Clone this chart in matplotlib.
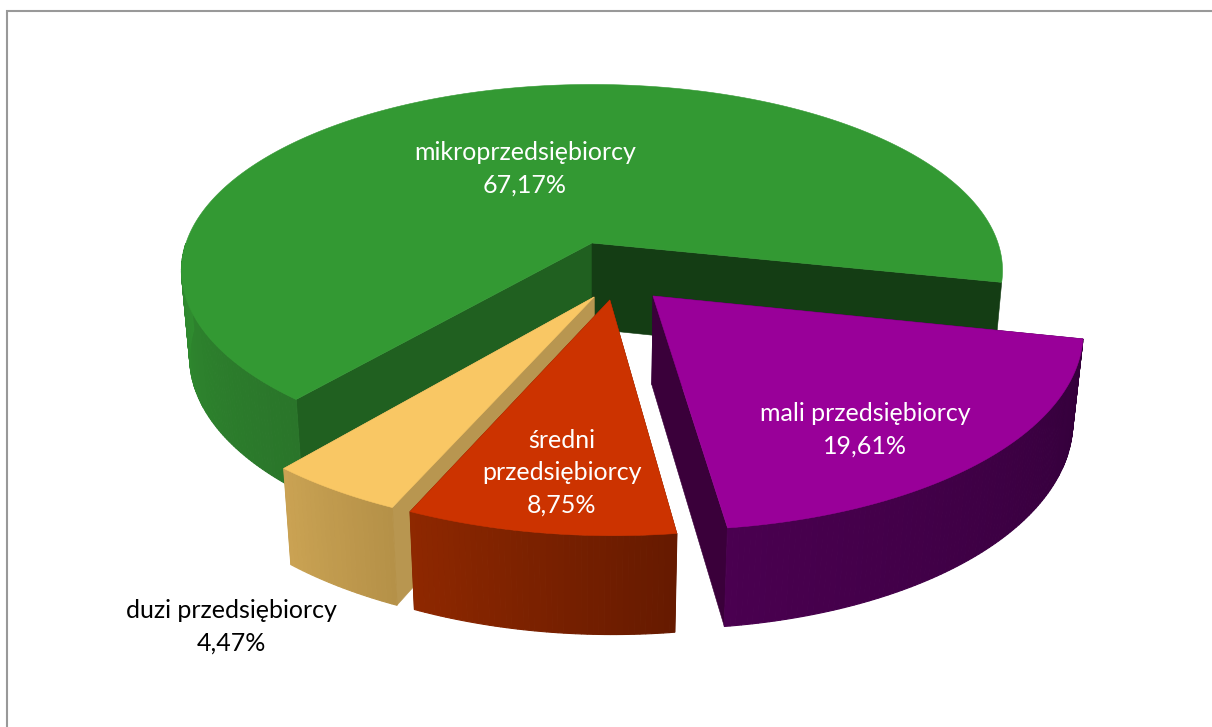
import numpy as np
import matplotlib
matplotlib.use('Agg')
from matplotlib import pyplot as plt
from matplotlib.colors import to_rgb
from matplotlib.patches import Polygon

# clockwise from the back right edge of the green slice
names = ['mali przedsiębiorcy', 'średni\nprzedsiębiorcy', 'duzi przedsiębiorcy', 'mikroprzedsiębiorcy']
values = [19.61, 8.75, 4.47, 67.17]

# styles
top_colors = ['#990099', '#CC3300', '#F9C764', '#339933']
side_colors = [('#33003A', '#4A0050'), ('#661A00', '#8F2800'), ('#B59148', '#CBA353'), ('#2A752A', '#2F8C2F')]
wall_colors = [('#33003A', '#3A003A'), ('#661A00', '#661A00'), ('#B89650', '#B89650'), ('#206020', '#143D14')]
explode = [(0.144, -0.279), (0.042, -0.299), (0.005, -0.284), (0.0, 0.0)]
label_pos = [(865, 430), (562, 473), (231, 627), (525, 169)]
label_colors = ['white', 'white', 'black', 'white']

start_angle = -12.1
center_x, center_y = 592, 243
radius_x, radius_y = 406, 182
persp_v, persp_z = 0.148, 0.02
depth = 87.7


def project(u, v, z=0.0):
    # simple camera: far side of the pie gets smaller, bottom face too
    w = 1 + persp_v * v + persp_z * z
    return center_x + radius_x * u / w, center_y + (-radius_y * v + depth * z) / w


def mix(c1, c2, t):
    a, b = np.array(to_rgb(c1)), np.array(to_rgb(c2))
    return tuple(a + (b - a) * t)


def fill(ax, pts, color, z, lw=0.4):
    ax.add_patch(Polygon(pts, closed=True, facecolor=color, edgecolor=color, linewidth=lw, zorder=z))


def draw_slice(ax, a1, a2, ex, top, side, wall, z):
    # a1 > a2, going clockwise
    n_pts = max(int((a1 - a2) * 1.5), 20)
    ang = np.radians(np.linspace(a1, a2, n_pts))
    u = ex[0] + np.cos(ang)
    v = ex[1] + np.sin(ang)

    # first run of points on the front half, green comes back to it at the far right
    front = np.where(np.sin(ang) < 0)[0]
    breaks = np.where(np.diff(front) > 1)[0]
    if len(breaks):
        front = front[:breaks[0] + 1]

    # the two radial walls go first, the rest covers what is hidden
    for k, c in zip((0, -1), wall):
        p = [project(ex[0], ex[1]), project(u[k], v[k]), project(u[k], v[k], 1), project(ex[0], ex[1], 1)]
        fill(ax, p, c, z)

    # outer side, split in thin strips for the shading
    for n in range(len(front) - 1):
        i, j = front[n], front[n + 1]
        p = [project(u[i], v[i]), project(u[j], v[j]), project(u[j], v[j], 1), project(u[i], v[i], 1)]
        fill(ax, p, mix(side[0], side[1], n / (len(front) - 1)), z + 0.1, lw=0.8)

    pts = [project(ex[0], ex[1])] + [project(a, b) for a, b in zip(u, v)]
    fill(ax, pts, top, z + 0.2)


fig = plt.figure(figsize=(12.12, 7.27), dpi=100)
ax = fig.add_axes([0, 0, 1, 1])
ax.set_xlim(0, 1212)
ax.set_ylim(727, 0)
ax.axis('off')

# chart frame, only left and top show up in the crop
ax.plot([7, 7, 1212], [727, 11, 11], color='#999999', linewidth=1.5, solid_joinstyle='miter', zorder=0)

edges = start_angle - np.cumsum([0] + values) * 3.6
draw_order = [3, 2, 1, 0]
for z, i in enumerate(draw_order):
    draw_slice(ax, edges[i], edges[i + 1], explode[i], top_colors[i], side_colors[i], wall_colors[i], 2 + z)

for name, val, pos, col in zip(names, values, label_pos, label_colors):
    txt = name + '\n' + f'{val:.2f}'.replace('.', ',') + '%'
    ax.text(pos[0], pos[1], txt, color=col, ha='center', va='center', family='Lato',
            fontsize=18, linespacing=1.5, zorder=10)

fig.savefig('out.png', dpi=100)
